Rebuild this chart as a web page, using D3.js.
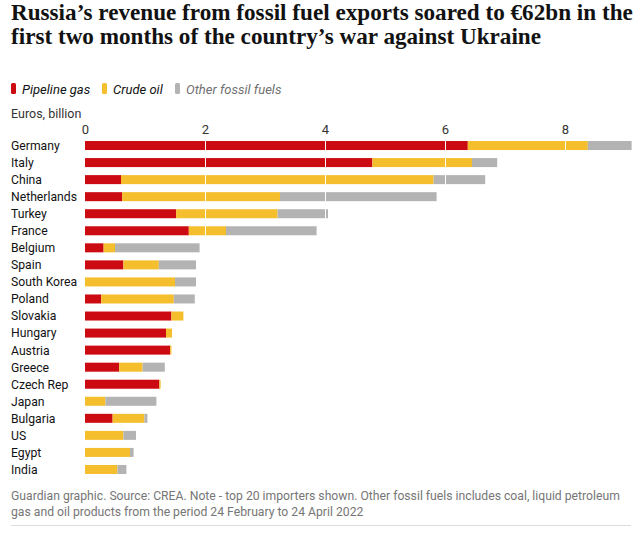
<!DOCTYPE html>
<html>
<head>
<meta charset="utf-8">
<script src="https://cdn.jsdelivr.net/npm/d3@7"></script>
<style>
body { margin: 0; background: #fff; }
text { font-family: Roboto, "Noto Sans", sans-serif; }
</style>
</head>
<body>
<div id="chart"></div>
<script>
// values, euros billion
var countries = ["Germany", "Italy", "China", "Netherlands", "Turkey", "France", "Belgium", "Spain",
	"South Korea", "Poland", "Slovakia", "Hungary", "Austria", "Greece", "Czech Rep", "Japan",
	"Bulgaria", "US", "Egypt", "India"];
var pipelineGas = [6.38, 4.79, 0.60, 0.62, 1.52, 1.73, 0.31, 0.64, 0, 0.27, 1.44, 1.35, 1.42, 0.57, 1.24, 0, 0.46, 0, 0, 0];
var crudeOil = [2.00, 1.66, 5.21, 2.63, 1.69, 0.62, 0.19, 0.59, 1.50, 1.21, 0.20, 0.10, 0.02, 0.39, 0.02, 0.34, 0.53, 0.64, 0.75, 0.54];
var otherFuels = [0.73, 0.42, 0.86, 2.61, 0.84, 1.51, 1.41, 0.62, 0.35, 0.35, 0, 0, 0, 0.37, 0, 0.85, 0.05, 0.21, 0.06, 0.15];
var seriesNames = ["Pipeline gas", "Crude oil", "Other fossil fuels"];
var seriesKeys = ["gas", "oil", "other"];
var seriesColors = ["#cc0a11", "#f5be2c", "#b3b3b3"];
var tickValues = [0, 2, 4, 6, 8];

var titleLines = ["Russia\u2019s revenue from fossil fuel exports soared to \u20ac62bn in the",
	"first two months of the country\u2019s war against Ukraine"];
var footLines = ["Guardian graphic. Source: CREA. Note - top 20 importers shown. Other fossil fuels includes coal, liquid petroleum",
	"gas and oil products from the period 24 February to 24 April 2022"];

var width = 643, height = 538;

var svg = d3.select("#chart").append("svg")
	.attr("width", width)
	.attr("height", height);

// add lines of text, sizing them so the first line fills the target width
function textBlock(lines, x0, y0, lineH, target, style) {
	var els = lines.map(function(t, i) {
		var el = svg.append("text")
			.attr("x", x0)
			.attr("y", y0 + i * lineH)
			.text(t);
		for (var k in style) el.style(k, style[k]);
		return el;
	});
	var fs = parseFloat(els[0].style("font-size"));
	var w = els[0].node().getComputedTextLength();
	var size = fs * target / w;
	els.forEach(function(el) { el.style("font-size", size + "px"); });
}

// title
textBlock(titleLines, 11, 20, 24, 622, {
	"font-family": "'Liberation Serif', serif",
	"font-weight": "bold",
	"font-size": "20px",
	"fill": "#121212"
});

// legend
var legendX = [11, 102, 175];
var legend = svg.append("g");
seriesNames.forEach(function(name, i) {
	legend.append("rect")
		.attr("x", legendX[i])
		.attr("y", 83)
		.attr("width", 5)
		.attr("height", 11)
		.attr("rx", 1.5)
		.attr("fill", seriesColors[i]);
	legend.append("text")
		.attr("x", legendX[i] + 11)
		.attr("y", 93.5)
		.style("font-size", "13px")
		.style("font-style", "italic")
		.attr("fill", i == 2 ? "#707070" : "#121212")
		.text(name);
});

svg.append("text")
	.attr("x", 11)
	.attr("y", 118)
	.style("font-size", "12.5px")
	.attr("fill", "#333")
	.text("Euros, billion");

// data table for the stack
var rows = countries.map(function(c, i) {
	return {country: c, gas: pipelineGas[i], oil: crudeOil[i], other: otherFuels[i]};
});
var stack = d3.stack().keys(seriesKeys)(rows);

var x = d3.scaleLinear()
	.domain([0, 9.1])
	.range([85, 631]);

var y = d3.scaleBand()
	.domain(countries)
	.range([137, 478])
	.paddingInner(0.472)
	.paddingOuter(0.236);

// tick labels
svg.append("g")
	.attr("transform", "translate(0,134)")
	.call(d3.axisTop(x).tickValues(tickValues).tickSize(0).tickPadding(0))
	.call(function(g) {
		g.select(".domain").remove();
		g.selectAll("text")
			.style("font-family", "Roboto, sans-serif")
			.style("font-size", "13px")
			.attr("fill", "#333")
			.attr("dy", 0);
	});

// country labels
svg.append("g").selectAll("text")
	.data(countries)
	.enter().append("text")
	.attr("x", 11)
	.attr("y", function(d) { return y(d) + y.bandwidth() / 2; })
	.attr("dy", "0.36em")
	.style("font-size", "12.2px")
	.attr("fill", "#121212")
	.text(function(d) { return d; });

// bars
svg.append("g").selectAll("g")
	.data(stack)
	.enter().append("g")
	.attr("fill", function(d, i) { return seriesColors[i]; })
	.selectAll("rect")
	.data(function(d) { return d; })
	.enter().append("rect")
	.attr("x", function(d) { return x(d[0]); })
	.attr("y", function(d) { return y(d.data.country); })
	.attr("width", function(d) { return x(d[1]) - x(d[0]); })
	.attr("height", y.bandwidth());

// white grid lines drawn over the bars
svg.append("g").selectAll("line")
	.data(tickValues.slice(1))
	.enter().append("line")
	.attr("x1", function(d) { return Math.round(x(d)) + 0.5; })
	.attr("x2", function(d) { return Math.round(x(d)) + 0.5; })
	.attr("y1", y.range()[0])
	.attr("y2", y.range()[1])
	.attr("stroke", "#fff")
	.attr("stroke-width", 1);

// footer
textBlock(footLines, 11, 500, 16, 609, {
	"font-size": "12px",
	"fill": "#767676"
});

svg.append("line")
	.attr("x1", 11)
	.attr("x2", 631)
	.attr("y1", 525.5)
	.attr("y2", 525.5)
	.attr("stroke", "#dcdcdc");
</script>
</body>
</html>
